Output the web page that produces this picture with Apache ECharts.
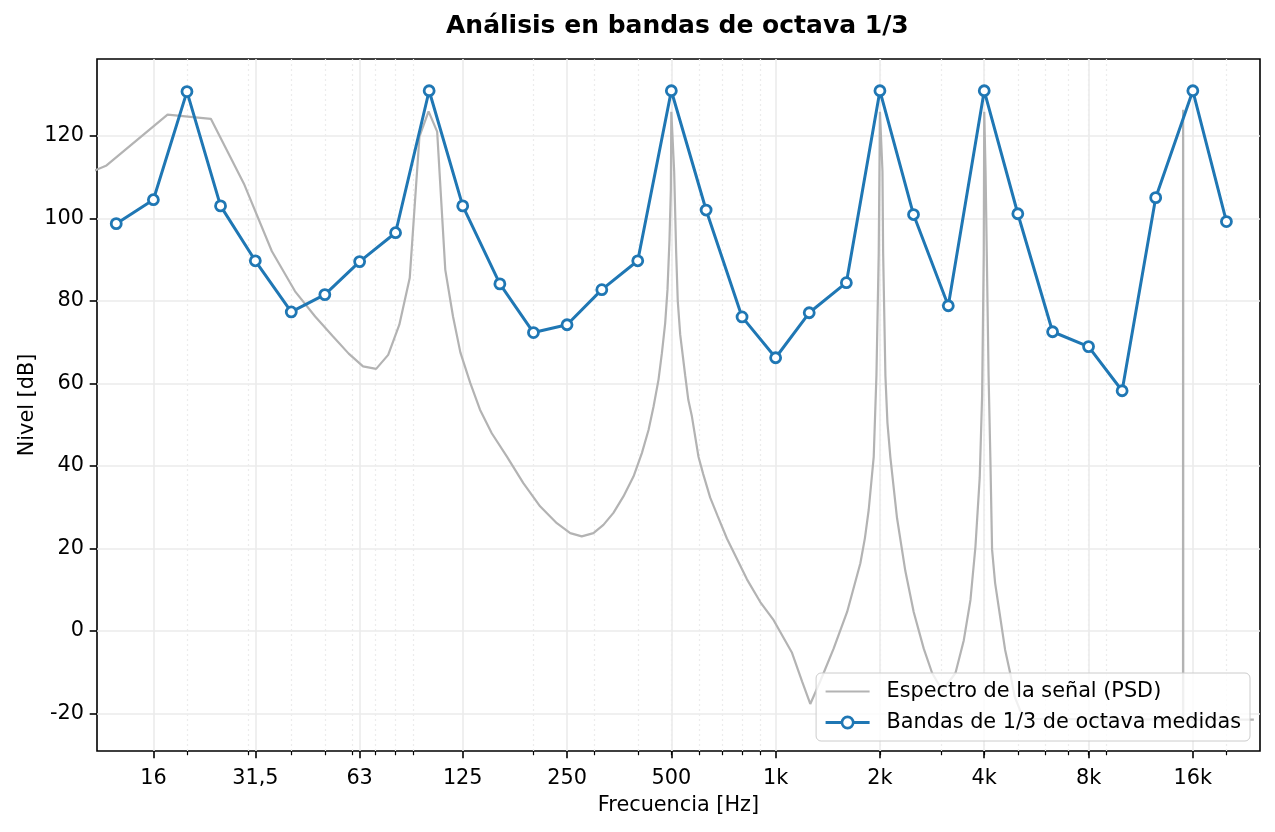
<!DOCTYPE html>
<html>
<head>
<meta charset="utf-8">
<title>Análisis en bandas de octava 1/3</title>
<script src="https://cdn.jsdelivr.net/npm/echarts@6/dist/echarts.min.js"></script>
<style>
  html, body { margin: 0; padding: 0; background: #fff; }
  #chart { width: 1275px; height: 832px; }
</style>
</head>
<body>
<div id="chart"></div>
<script>
// 1/3 octave bands (nominal centre frequencies) and measured levels
const bandFreqs = [12.5, 16, 20, 25, 31.5, 40, 50, 63, 80, 100,
  125, 160, 200, 250, 315, 400, 500, 630, 800, 1000,
  1250, 1600, 2000, 2500, 3150, 4000, 5000, 6300, 8000, 10000,
  12500, 16000, 20000];
const bandLevels = [98.7, 104.5, 130.7, 103.0, 89.7, 77.3, 81.5, 89.5, 96.5, 130.9,
  103.0, 84.1, 72.3, 74.2, 82.7, 89.7, 130.9, 102.0, 76.1, 66.2,
  77.1, 84.4, 130.9, 100.9, 78.8, 130.9, 101.1, 72.5, 68.9, 58.2,
  105.0, 130.9, 99.2];

// signal spectrum (PSD)
const psdFreqs = [5.86, 11.72, 17.58, 23.44, 29.30, 35.16, 41.02, 46.88, 52.73, 58.59,
  64.45, 70.31, 76.17, 82.03, 87.89, 93.75, 99.61, 105.47, 111.33, 117.19,
  123.05, 131.4, 140.2, 151.6, 167.5, 187, 209, 233.6, 255.4, 275.7,
  297.9, 318.4, 340.3, 363.7, 388.8, 411.1, 429.7, 444.3, 459.2, 469.6,
  480, 487.4, 493.9, 498.4, 500, 509.5, 516.4, 521.8, 530.4, 548.3,
  559.7, 573.2, 598.9, 618, 647.4, 679, 723.4, 826.5, 903, 986.9,
  1115, 1192, 1259, 1345, 1470, 1608, 1756, 1810, 1856, 1919,
  1954, 1984, 2000, 2034, 2043, 2074, 2102, 2143, 2241, 2368,
  2503, 2676, 2829, 3029, 3304, 3491, 3650, 3773, 3882, 3944,
  3987, 4000, 4036, 4068, 4117, 4166, 4214, 4300, 4445, 4596,
  4752, 4900, 5090, 5440, 14988, 14994, 15000, 15006, 15012, 24000];
const psdLevels = [102.0, 112.8, 125.1, 124.1, 108.1, 92.0, 82.3, 76.2, 71.4, 67.2,
  64.1, 63.5, 66.9, 74.2, 85.5, 119.8, 125.9, 121.0, 87.5, 76.2,
  67.5, 60.1, 53.6, 47.9, 42.3, 35.8, 30.2, 26.1, 23.7, 22.9,
  23.7, 25.7, 28.6, 32.6, 37.4, 43.1, 48.7, 54.4, 60.9, 67.3,
  74.6, 82.7, 94.8, 106.9, 125.8, 111.4, 91.6, 80.0, 71.8, 61.9,
  56.0, 52.0, 42.2, 38.0, 32.3, 28.0, 22.4, 12.5, 7.0, 2.6,
  -5.3, -12.2, -17.7, -12.2, -4.3, 4.6, 16.4, 22.5, 29.3, 42.2,
  61.9, 91.6, 125.8, 111.4, 91.6, 61.9, 50.5, 42.2, 27.3, 14.5,
  4.6, -4.3, -10.2, -14.5, -10.2, -2.3, 7.5, 20.4, 37.2, 57.0,
  91.6, 125.8, 111.0, 91.6, 62.0, 42.0, 19.7, 11.6, 3.5, -4.6,
  -10.2, -16.0, -19.5, -21.3, -21.5, 118.0, 126.3, 118.0, -21.5, -21.5];

// axis ticks
const xTickValues = [16, 31.5, 63, 125, 250, 500, 1000, 2000, 4000, 8000, 16000];
const xTickLabels = ['16', '31,5', '63', '125', '250', '500', '1k', '2k', '4k', '8k', '16k'];
const xMinorTicks = [20, 30, 40, 50, 60, 70, 80, 90,
  200, 300, 400, 500, 600, 700, 800, 900,
  2000, 3000, 4000, 5000, 6000, 7000, 8000, 9000, 20000];
const yTickValues = [-20, 0, 20, 40, 60, 80, 100, 120];

const FONT = 'DejaVu Sans';
const BLUE = '#1f77b4';
const GRAY = '#b3b3b3';
const PLOT_H = 832 - 59 - 81;
const chart = echarts.init(document.getElementById('chart'), null, { renderer: 'canvas' });

const psdData = psdFreqs.map((f, i) => [f, psdLevels[i]]);
const bandData = bandFreqs.map((f, i) => [f, bandLevels[i]]);

const option = {
  animation: false,
  backgroundColor: '#ffffff',
  textStyle: { fontFamily: FONT },
  title: {
    text: 'Análisis en bandas de octava 1/3',
    left: 446,
    top: 11,
    padding: 0,
    textStyle: { fontFamily: FONT, fontSize: 25, fontWeight: 'bold', color: '#000', lineHeight: 30 },
  },
  grid: {
    left: 97, right: 15, top: 59, bottom: 81,
    show: true, borderColor: '#000', borderWidth: 1.6, backgroundColor: 'transparent',
  },
  legend: {
    orient: 'vertical',
    right: 25,
    bottom: 91,
    itemWidth: 44,
    itemHeight: 14,
    itemGap: 10,
    padding: [8, 9, 8, 8],
    backgroundColor: 'rgba(255,255,255,0.8)',
    borderColor: '#cccccc',
    borderWidth: 1,
    borderRadius: 5,
    textStyle: { fontFamily: FONT, fontSize: 20.8, color: '#000', lineHeight: 21, padding: [0, 0, 0, 12] },
    data: [
      {
        name: 'Espectro de la señal (PSD)',
        lineStyle: { color: GRAY, width: 2.2 },
        itemStyle: { color: 'rgba(0,0,0,0)', borderWidth: 0 },
      },
      {
        name: 'Bandas de 1/3 de octava medidas',
        lineStyle: { color: BLUE, width: 3 },
        itemStyle: { color: '#ffffff', borderColor: BLUE, borderWidth: 2.6 },
      },
    ],
  },
  xAxis: [
    {
      type: 'log', logBase: 10, min: 11, max: 25000, position: 'bottom',
      name: 'Frecuencia [Hz]', nameLocation: 'middle', nameGap: 44,
      nameTextStyle: { fontFamily: FONT, fontSize: 20.8, color: '#000' },
      axisLine: { show: false, onZero: false },
      axisTick: { show: true, customValues: xTickValues, length: 7.3, lineStyle: { color: '#000', width: 1.6 } },
      axisLabel: {
        customValues: xTickValues, margin: 17,
        fontFamily: FONT, fontSize: 20.8, color: '#000',
        formatter: (v) => xTickLabels[xTickValues.findIndex(t => Math.abs(t - v) < 1e-6 * t)] || '',
      },
      splitLine: { show: true, lineStyle: { color: '#ebebeb', width: 1.6 } },
      minorTick: { show: false },
    },
    {
      // minor ticks: second axis moved onto the bottom spine
      type: 'log', logBase: 10, min: 11, max: 25000, position: 'top', offset: -PLOT_H,
      axisLine: { show: false, onZero: false },
      axisTick: { show: true, inside: true, customValues: xMinorTicks, length: 4.2, lineStyle: { color: '#000', width: 1.2 } },
      axisLabel: { show: false, customValues: xMinorTicks },
      splitLine: { show: true, lineStyle: { color: '#ececec', width: 1.2, type: [2, 3] } },
    },
  ],
  yAxis: {
    type: 'value', min: -29.1, max: 138.6,
    name: 'Nivel [dB]', nameLocation: 'middle', nameGap: 59, nameRotate: 90,
    nameMoveOverlap: false,
    nameTextStyle: { fontFamily: FONT, fontSize: 20.8, color: '#000' },
    axisLine: { show: false, onZero: false },
    axisTick: { show: true, customValues: yTickValues, length: 7.3, lineStyle: { color: '#000', width: 1.6 } },
    axisLabel: { customValues: yTickValues, margin: 13, fontFamily: FONT, fontSize: 20.8, color: '#000' },
    splitLine: { show: true, lineStyle: { color: '#ebebeb', width: 1.6 } },
  },
  series: [
    {
      name: 'Espectro de la señal (PSD)',
      type: 'line',
      xAxisIndex: 0,
      data: psdData,
      symbol: 'none',
      showSymbol: false,
      clip: true,
      lineStyle: { color: GRAY, width: 2.2 },
      itemStyle: { color: GRAY },
      z: 2,
    },
    {
      name: 'Bandas de 1/3 de octava medidas',
      type: 'line',
      xAxisIndex: 0,
      data: bandData,
      symbol: 'circle',
      symbolSize: 10,
      lineStyle: { color: BLUE, width: 3 },
      itemStyle: { color: '#ffffff', borderColor: BLUE, borderWidth: 2.8 },
      z: 3,
    },
  ],
};

chart.setOption(option);
</script>
</body>
</html>
